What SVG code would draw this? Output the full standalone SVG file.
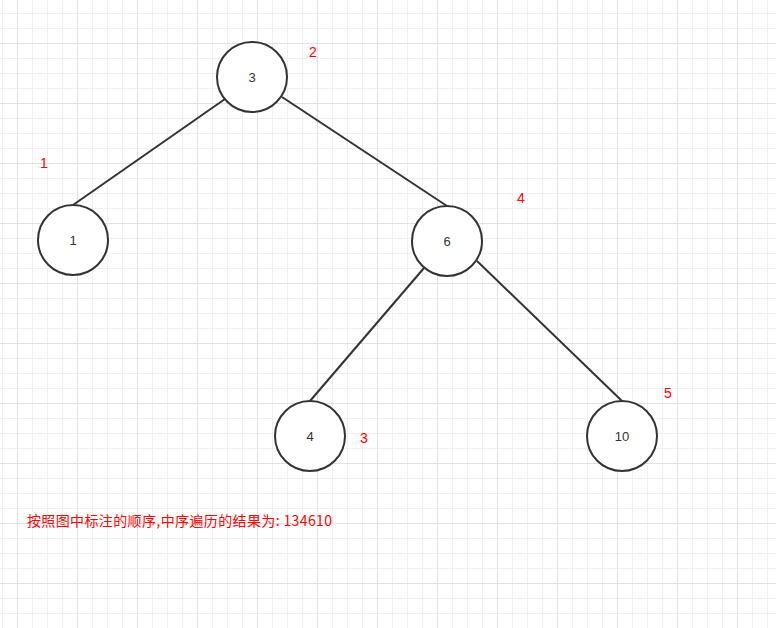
<svg xmlns="http://www.w3.org/2000/svg" width="776" height="628" viewBox="0 0 776 628">
  <defs>
    <pattern id="minor" x="2" y="-2" width="15" height="15" patternUnits="userSpaceOnUse">
      <path d="M0.5 0V15M0 0.5H15" fill="none" stroke="#f0f0f0" stroke-width="1"/>
    </pattern>
    <pattern id="major" x="17" y="43" width="60" height="60" patternUnits="userSpaceOnUse">
      <path d="M0.5 0V60M0 0.5H60" fill="none" stroke="#e2e2e2" stroke-width="1"/>
    </pattern>
  </defs>
  <style>
    .node circle { fill: #ffffff; stroke: #333333; stroke-width: 2; }
    .node text { font-family: "Liberation Sans", "Noto Sans CJK SC", sans-serif; font-size: 13px; fill: #333333; text-anchor: middle; dominant-baseline: central; }
    .edges line { stroke: #333333; stroke-width: 2; }
    .order { font-family: "Liberation Sans", "Noto Sans CJK SC", sans-serif; font-size: 14px; fill: #ff0000; text-anchor: middle; dominant-baseline: central; }
    .note { font-family: "Noto Sans CJK SC", "Liberation Sans", sans-serif; font-size: 14px; fill: #ff0000; }
  </style>
  <rect width="776" height="628" fill="#ffffff"/>
  <rect width="776" height="628" fill="url(#minor)"/>
  <rect width="776" height="628" fill="url(#major)"/>

  <g id="edges" class="edges">
    <line x1="225" y1="99" x2="73" y2="205"/>
    <line x1="282" y1="97" x2="447" y2="206"/>
    <line x1="424" y1="268" x2="310" y2="401"/>
    <line x1="477" y1="261" x2="622" y2="401"/>
  </g>

  <g id="node-3" class="node">
    <circle cx="252" cy="77" r="35"/>
    <text x="252" y="77">3</text>
  </g>
  <g id="node-1" class="node">
    <circle cx="73" cy="240" r="35"/>
    <text x="73" y="240">1</text>
  </g>
  <g id="node-6" class="node">
    <circle cx="447" cy="241" r="35"/>
    <text x="447" y="241">6</text>
  </g>
  <g id="node-4" class="node">
    <circle cx="310" cy="436" r="35"/>
    <text x="310" y="436">4</text>
  </g>
  <g id="node-10" class="node">
    <circle cx="622" cy="436" r="35"/>
    <text x="622" y="436">10</text>
  </g>

  <g id="order-labels">
    <text class="order" x="313" y="52">2</text>
    <text class="order" x="44" y="163">1</text>
    <text class="order" x="521" y="198">4</text>
    <text class="order" x="364" y="438">3</text>
    <text class="order" x="668" y="393">5</text>
  </g>

  <text id="note" class="note" x="27" y="526" textLength="305" lengthAdjust="spacing">按照图中标注的顺序,中序遍历的结果为: 134610</text>
</svg>
